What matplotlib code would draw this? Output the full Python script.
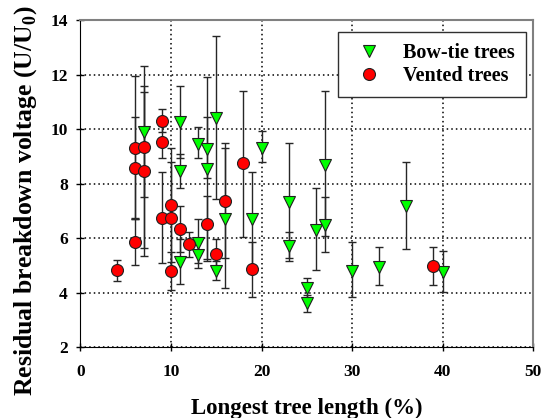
import matplotlib.pyplot as plt
from matplotlib.lines import Line2D
import numpy as np

# Bow-tie trees: x, y, error bar bottom, error bar top
bow_x = [7, 11, 11, 11, 13, 13, 13, 14, 14, 15, 15, 16, 19, 20,
         23, 23, 25, 25, 26, 27, 27, 30, 33, 36, 40]
bow_y = [9.91, 10.27, 8.47, 5.14, 9.45, 5.81, 5.39, 9.26, 8.54, 10.42, 4.81, 6.69, 6.69, 9.32,
         7.32, 5.73, 4.16, 3.61, 6.30, 8.69, 6.49, 4.81, 4.93, 7.18, 4.75]
bow_lo = [7.52, 8.95, 7.85, 4.31, 8.95, 5.10, 4.90, 8.20, 5.16, 7.45, 4.47, 4.16, 4.96, 8.78,
          5.16, 5.29, 3.77, 3.31, 4.84, 6.08, 5.51, 3.83, 4.27, 5.62, 4.04]
bow_hi = [12.31, 11.58, 9.09, 5.97, 10.09, 6.69, 5.90, 10.43, 11.92, 13.41, 5.15, 9.32, 8.42, 9.94,
          9.48, 6.22, 4.55, 3.91, 7.85, 11.40, 7.52, 5.87, 5.69, 8.78, 5.53]

# Vented trees
vent_x = [4, 6, 6, 6, 7, 7, 9, 9, 9, 10, 10, 10, 11, 12, 14, 15, 16, 18, 19, 39]
vent_y = [4.84, 9.32, 8.59, 5.86, 9.36, 8.48, 10.31, 9.52, 6.75, 7.22, 6.75, 4.80, 6.34, 5.78,
          6.53, 5.42, 7.38, 8.75, 4.86, 4.99]
vent_lo = [4.45, 6.69, 6.75, 5.02, 5.65, 5.35, 9.90, 8.93, 5.09, 5.14, 4.69, 4.10, 5.50, 5.32,
           5.23, 4.88, 5.26, 6.06, 3.83, 4.27]
vent_hi = [5.20, 11.95, 10.43, 6.69, 11.37, 11.58, 10.73, 10.10, 8.42, 9.30, 8.81, 5.50, 7.20, 6.24,
           7.55, 5.96, 9.48, 11.40, 5.87, 5.69]

plt.rcParams['font.family'] = 'Liberation Serif'
plt.rcParams['font.weight'] = 'bold'
plt.rcParams['mathtext.fontset'] = 'custom'
plt.rcParams['mathtext.bf'] = 'Liberation Serif:bold'
plt.rcParams['mathtext.rm'] = 'Liberation Serif:bold'

fig = plt.figure(figsize=(5.42, 4.18), dpi=100)
ax = fig.add_axes([0.1485, 0.169, 0.835, 0.783])


def draw(x, y, lo, hi, marker, color):
    x = np.array(x)
    y = np.array(y)
    err = [y - np.array(lo), np.array(hi) - y]
    ax.errorbar(x, y, yerr=err, fmt='none', ecolor='#262626', elinewidth=1,
                capsize=3.2, capthick=1, zorder=2)
    ax.plot(x, y, linestyle='none', marker=marker, markersize=8.6,
            markerfacecolor=color, markeredgecolor='#202020', markeredgewidth=0.8, zorder=3)


draw(bow_x, bow_y, bow_lo, bow_hi, 'v', '#00ff00')
draw(vent_x, vent_y, vent_lo, vent_hi, 'o', '#ff0000')

ax.set_xlim(0, 50)
ax.set_ylim(2, 14)
ax.set_xticks(range(0, 51, 10))
ax.set_yticks(range(2, 15, 2))
ax.grid(True, color='black', linestyle=(0, (1, 2)), linewidth=1.1)
ax.tick_params(direction='inout', length=6, width=1, labelsize=12.5)
ax.tick_params(axis='x', pad=9)
ax.tick_params(axis='y', pad=6)
for lab in ax.get_xticklabels() + ax.get_yticklabels():
    lab.set_fontweight('bold')

for side in ['left', 'bottom']:
    ax.spines[side].set_color('black')
for side in ['top', 'right']:
    ax.spines[side].set_color('#808080')
    ax.spines[side].set_linewidth(1.5)

ax.set_xlabel('Longest tree length (%)', fontsize=16.5, fontweight='bold', labelpad=13)
ax.set_ylabel(r'Residual breakdown voltage (U/U$_\mathbf{0}$)', fontsize=18.5,
              fontweight='bold', labelpad=7)
ax.yaxis.set_label_coords(-0.092, 0.447)

handles = [
    Line2D([], [], linestyle='none', marker='v', markersize=8.6, markerfacecolor='#00ff00',
           markeredgecolor='#202020', markeredgewidth=0.8),
    Line2D([], [], linestyle='none', marker='o', markersize=8.6, markerfacecolor='#ff0000',
           markeredgecolor='#202020', markeredgewidth=0.8),
]
leg = ax.legend(handles, ['Bow-tie trees', 'Vented trees'], loc='upper right',
                bbox_to_anchor=(0.985, 0.964), borderaxespad=0, fancybox=False, framealpha=1,
                prop={'size': 14.5, 'weight': 'bold'}, borderpad=0.55,
                handletextpad=0.7, labelspacing=0.15)
leg.get_frame().set_edgecolor('#303030')
leg.get_frame().set_linewidth(1)

fig.savefig('out.png', dpi=100)
